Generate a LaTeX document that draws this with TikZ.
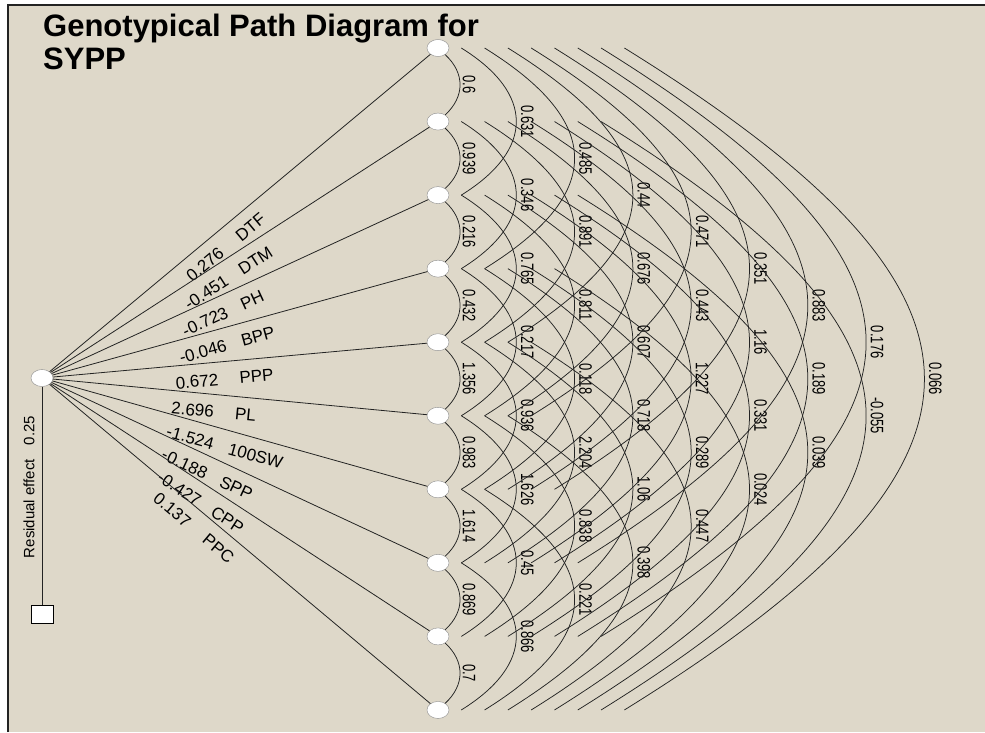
\documentclass[tikz,border=0pt]{standalone}
\usepackage{fontspec}
\setmainfont{Liberation Sans}
\usepackage{tikz}
\usetikzlibrary{shapes.geometric}
\definecolor{canvas}{RGB}{222,216,201}
\definecolor{ink}{RGB}{35,35,35}

\begin{document}
\begin{tikzpicture}[x=1pt,y=-1pt,
  trait/.style={ellipse,draw=black!45,fill=white,minimum width=22pt,minimum height=17pt,inner sep=0pt},
  effect/.style={draw=ink,line width=0.8pt},
  corr/.style={draw=ink,line width=0.75pt},
  coef/.style={rotate=-90,inner sep=0pt,font=\fontsize{18}{18}\selectfont},
  plab/.style={sloped,anchor=north west,inner xsep=0pt,inner ysep=11pt,font=\fontsize{17}{17}\selectfont}]
\useasboundingbox (0,0) rectangle (985,732);
\fill[white] (0,0) rectangle (985,732);
\fill[canvas] (8,5) rectangle (985,732);
\draw[ink,line width=1.5pt] (8,732) -- (8,5) -- (985,5);

\node[anchor=north west,align=left,inner sep=0pt,font=\fontsize{31}{33}\selectfont\bfseries] (title) at (43,14) {Genotypical Path Diagram for\\SYPP};

% traits on the right
\foreach \i in {1,...,10}
  \node[trait] (t\i) at (438,{48+73.55*(\i-1)}) {};

% seed yield per plant and residual
\node[trait] (sypp) at (42,378) {};
\node[draw=black,fill=white,minimum width=22pt,minimum height=18pt,inner sep=0pt] (res) at (42,614) {};
\draw[effect] (sypp) -- (res);
\node[rotate=90,font=\fontsize{15}{15}\selectfont] (resid) at (29,487) {Residual effect\hspace{14pt}0.25};

% direct effects
\foreach \c/\lab [count=\i] in {0.276/DTF,-0.451/DTM,-0.723/PH,-0.046/BPP,0.672/PPP,2.696/PL,-1.524/100SW,-0.188/SPP,-0.427/CPP,0.137/PPC}
{
  \pgfmathsetmacro\p{0.335-0.003*(\i-1)}
  \draw[effect] (sypp) -- node[plab,pos=\p] {\makebox[64pt][l]{\c}\lab} (t\i);
}

% correlations
\foreach \i/\j/\r in {1/2/0.6,2/3/0.939,3/4/0.216,4/5/0.432,5/6/1.356,6/7/0.983,7/8/1.614,8/9/0.869,9/10/0.7,
  1/3/0.631,2/4/0.346,3/5/0.765,4/6/0.217,5/7/0.936,6/8/1.626,7/9/0.45,8/10/0.866,
  1/4/0.485,2/5/0.891,3/6/0.811,4/7/0.118,5/8/2.204,6/9/0.838,7/10/0.221,
  1/5/0.44,2/6/0.676,3/7/0.607,4/8/0.718,5/9/1.06,6/10/0.398,
  1/6/0.471,2/7/0.443,3/8/1.227,4/9/0.289,5/10/0.447,
  1/7/0.351,2/8/1.16,3/9/0.331,4/10/0.024,
  1/8/0.883,2/9/0.189,3/10/0.039,
  1/9/0.176,2/10/-0.055,
  1/10/0.066}
{
  \pgfmathtruncatemacro\k{\j-\i}
  \pgfmathsetmacro\sx{23.3*(\k-1)}
  \pgfmathsetmacro\cc{(20+35*(\k-1))/0.75}
  \pgfmathsetmacro\cy{0.62*\cc}
  \pgfmathsetmacro\lx{469+58.3*(\k-1)}
  \pgfmathsetmacro\ly{48+73.55*((\i+\j)/2-1)}
  \ifnum\k=1
    \draw[corr] (t\i) .. controls +(27,25) and +(27,-25) .. (t\j);
  \else
    \draw[corr] ([xshift=\sx pt]t\i.center) .. controls +(\cc,\cy) and +(\cc,-\cy) .. ([xshift=\sx pt]t\j.center);
  \fi
  \node[coef] at (\lx,\ly) {\scalebox{.72}[1]{\r}};
}
\end{tikzpicture}
\end{document}
